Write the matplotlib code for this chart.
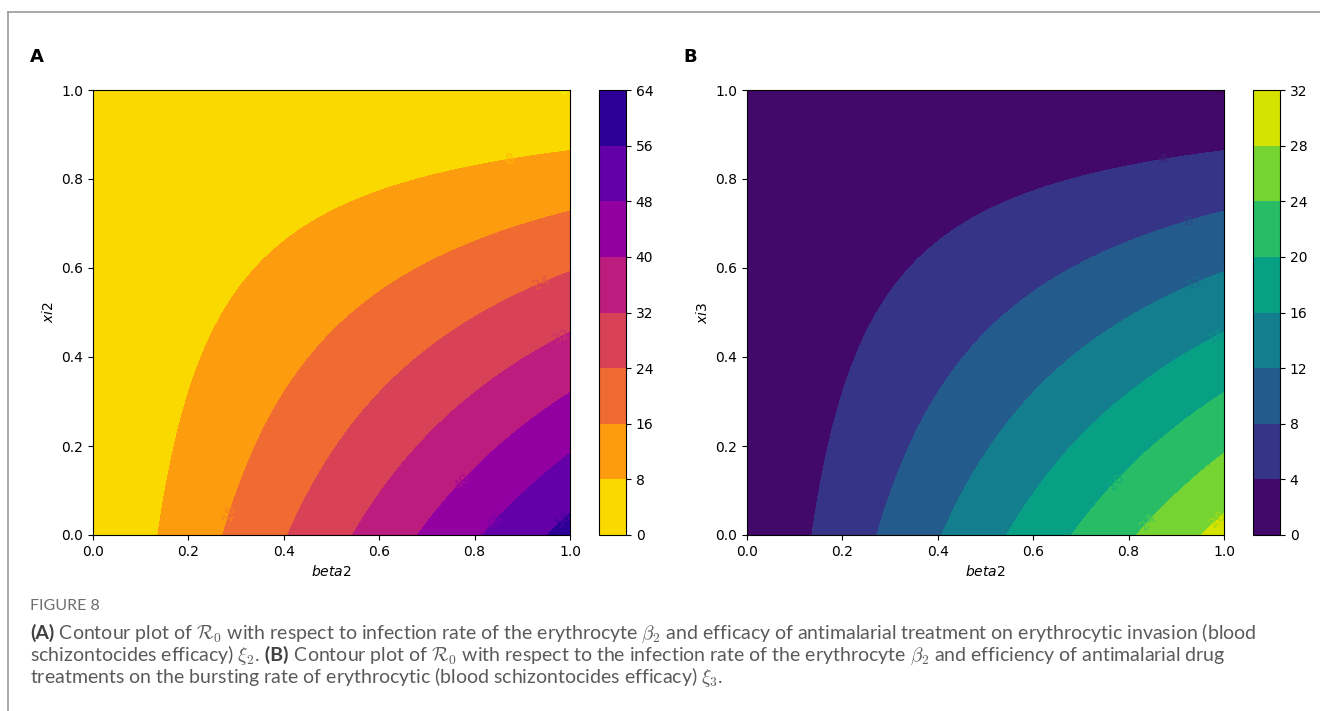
import numpy as np
import matplotlib.pyplot as plt
from matplotlib.lines import Line2D
from matplotlib.colors import ListedColormap, rgb_to_hsv, hsv_to_rgb

# parameter grids (beta2 on x, xi on y)
beta2 = np.linspace(0, 1, 300)
xi = np.linspace(0, 1, 300)

# R0 at beta2 = 1, xi = 0 for each scenario
r0_peak_a = 58.8
r0_peak_b = 29.4

levels_a = [0, 8, 16, 24, 32, 40, 48, 56, 64]
levels_b = [0, 4, 8, 12, 16, 20, 24, 28, 32]

caption_head = "FIGURE 8"
caption_lines = [
    [("(A)", True),
     (" Contour plot of $\\mathcal{R}_0$ with respect to infection rate of the erythrocyte "
      "$\\beta_2$ and efficacy of antimalarial treatment on erythrocytic invasion (blood", False)],
    [("schizontocides efficacy) $\\xi_2$.", False),
     (" (B)", True),
     (" Contour plot of $\\mathcal{R}_0$ with respect to the infection rate of the erythrocyte "
      "$\\beta_2$ and efficiency of antimalarial drug", False)],
    [("treatments on the bursting rate of erythrocytic (blood schizontocides efficacy) $\\xi_3$.", False)],
]

B, X = np.meshgrid(beta2, xi)
Z_a = r0_peak_a * B * (1 - X)
Z_b = r0_peak_b * B * (1 - X)


def vivid(name, boost=1.18):
    # stock colormap with a little more saturation
    rgb = plt.get_cmap(name)(np.linspace(0, 1, 256))[:, :3]
    hsv = rgb_to_hsv(rgb)
    hsv[:, 1] = np.clip(hsv[:, 1] * boost, 0, 1)
    return ListedColormap(hsv_to_rgb(hsv), name=name + '_vivid')


W, H = 1320, 711
fig = plt.figure(figsize=(W / 100, H / 100), dpi=100)


def rect(x0, y0, x1, y1):
    return [x0 / W, 1 - y1 / H, (x1 - x0) / W, (y1 - y0) / H]


def panel(ax_box, cb_box, Z, levels, cmap, ylabel, letter, letter_x):
    ax = fig.add_axes(rect(*ax_box))
    cs = ax.contour(B, X, Z, levels=levels, cmap=cmap, zorder=0.5)
    ax.clabel(cs, inline=True, fontsize=10)
    cf = ax.contourf(B, X, Z, levels=levels, cmap=cmap, zorder=1)
    ax.set_xlim(0, 1)
    ax.set_ylim(0, 1)
    ax.set_xlabel('$beta2$', fontsize=10)
    ax.set_ylabel(ylabel, fontsize=10)
    ax.tick_params(labelsize=10)
    cax = fig.add_axes(rect(*cb_box))
    fig.colorbar(cf, cax=cax, ticks=levels)
    cax.tick_params(labelsize=10)
    fig.text(letter_x / W, 1 - 57 / H, letter, fontsize=13, fontweight='bold',
             va='center')
    return ax


panel((93, 90, 570, 535), (599, 90, 626, 535), Z_a, levels_a, vivid('plasma_r'),
      '$xi2$', 'A', 30)
panel((747, 90, 1224, 535), (1253, 90, 1280, 535), Z_b, levels_b, vivid('viridis'),
      '$xi3$', 'B', 683)

# frame lines along the top and left edge
fig.add_artist(Line2D([8 / W, 1], [1 - 12 / H, 1 - 12 / H], color='#9a9a9a', lw=1.2))
fig.add_artist(Line2D([8 / W, 8 / W], [0, 1 - 12 / H], color='#9a9a9a', lw=1.2))

# caption
grey = '#5a5a5a'
fig.text(30 / W, 1 - 610 / H, caption_head, fontsize=11.5, family='Lato',
         color='#6e6e6e', va='baseline')

renderer = fig.canvas.get_renderer()
for i, runs in enumerate(caption_lines):
    y = 1 - (639 + 22 * i) / H
    x = 30 / W
    for s, bold in runs:
        t = fig.text(x, y, s, fontsize=14, family='Lato',
                     fontweight='bold' if bold else 'normal',
                     color='#404040' if bold else grey,
                     math_fontfamily='cm', va='baseline')
        x = t.get_window_extent(renderer).x1 / W

fig.savefig('out.png', dpi=100)
